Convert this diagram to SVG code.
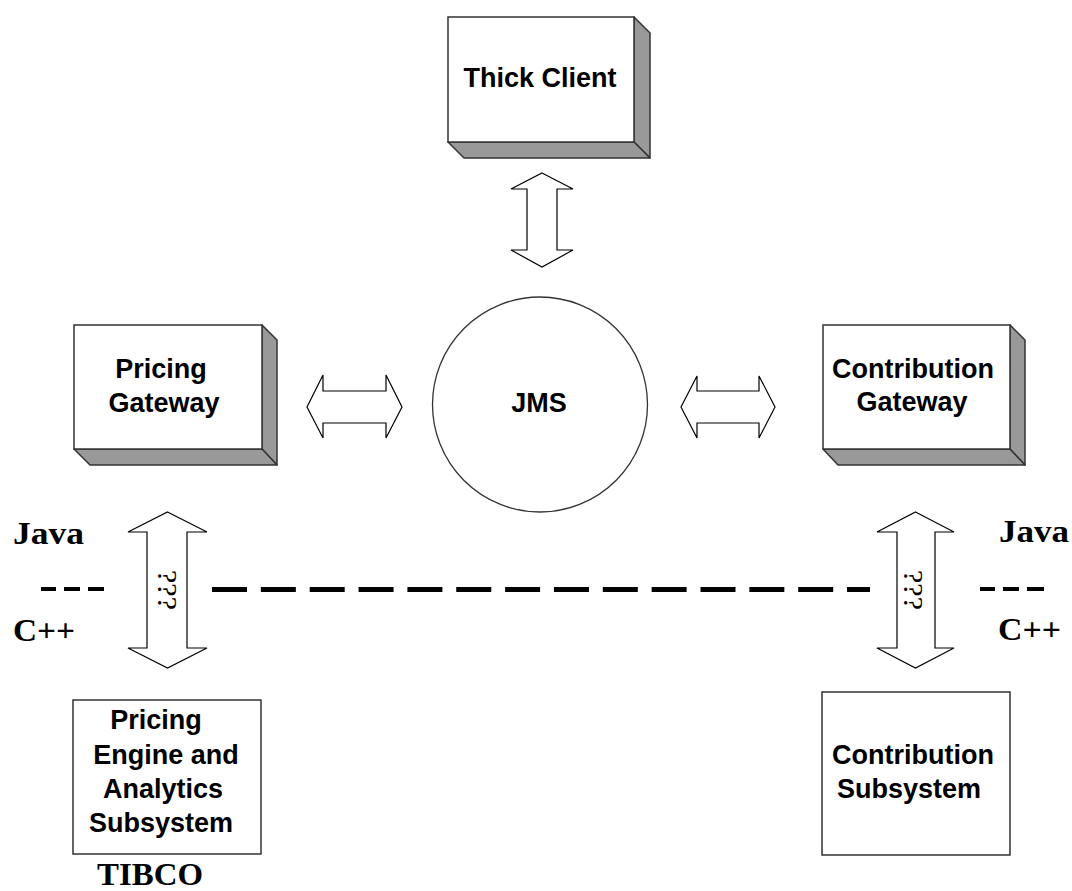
<svg xmlns="http://www.w3.org/2000/svg" width="1072" height="891" viewBox="0 0 1072 891">
<style>
.front{fill:#fff;stroke:#333;stroke-width:1.5}
.side{fill:#999;stroke:#333;stroke-width:1.5;stroke-linejoin:round}
.plain{fill:#fff;stroke:#333;stroke-width:1.5}
.lbl{font-family:"Liberation Sans",Arial,sans-serif;font-weight:bold;font-size:27px;fill:#000;text-anchor:middle}
.ser{font-family:"Liberation Serif","Times New Roman",serif;font-weight:bold;font-size:32px;fill:#000}
.arr{fill:#fff;stroke:#000;stroke-width:1.2;stroke-linejoin:miter}
.q{font-family:"Liberation Serif","Times New Roman",serif;font-size:28px;fill:#000;text-anchor:middle}
</style>
<rect width="1072" height="891" fill="#fff"/>

<g id="thick-client">
<polygon class="side" points="634,17 650,33 650,158 634,142"/>
<polygon class="side" points="448,142 634,142 650,158 464,158"/>
<rect class="front" x="448" y="17" width="186" height="125"/>
<text class="lbl" x="540" y="87">Thick Client</text>
</g>

<g id="pricing-gateway">
<polygon class="side" points="262,325 277,340 277,465 262,449"/>
<polygon class="side" points="74,449 262,449 277,465 90,465"/>
<rect class="front" x="74" y="325" width="188" height="124"/>
<text class="lbl" x="161" y="378">Pricing</text>
<text class="lbl" x="164" y="412">Gateway</text>
</g>

<g id="jms">
<circle cx="540" cy="404.5" r="107.5" fill="#fff" stroke="#333" stroke-width="1.3"/>
<text class="lbl" x="539" y="412">JMS</text>
</g>

<g id="contribution-gateway">
<polygon class="side" points="1010,325 1025,340 1025,465 1010,449"/>
<polygon class="side" points="823,449 1010,449 1025,465 838,465"/>
<rect class="front" x="823" y="325" width="187" height="124"/>
<text class="lbl" x="913" y="378">Contribution</text>
<text class="lbl" x="912" y="411">Gateway</text>
</g>

<g id="pricing-engine">
<rect class="plain" x="73" y="700" width="188" height="154"/>
<text class="lbl" x="156" y="729">Pricing</text>
<text class="lbl" x="166" y="763.5">Engine and</text>
<text class="lbl" x="163" y="798">Analytics</text>
<text class="lbl" x="161" y="832">Subsystem</text>
</g>

<g id="contribution-subsystem">
<rect class="plain" x="822" y="692" width="188" height="163"/>
<text class="lbl" x="913" y="764">Contribution</text>
<text class="lbl" x="909" y="798">Subsystem</text>
</g>

<g id="labels">
<text class="ser" x="13" y="544" textLength="71" lengthAdjust="spacingAndGlyphs">Java</text>
<text class="ser" x="999" y="542" textLength="70" lengthAdjust="spacingAndGlyphs">Java</text>
<text class="ser" x="13" y="641" textLength="62" lengthAdjust="spacingAndGlyphs">C++</text>
<text class="ser" x="998" y="640" textLength="63" lengthAdjust="spacingAndGlyphs">C++</text>
<text class="ser" x="97" y="885" textLength="106" lengthAdjust="spacingAndGlyphs">TIBCO</text>
</g>

<g id="boundary">
<g stroke="#000" stroke-width="4" fill="none">
<line x1="41" y1="589" x2="56" y2="589"/>
<line x1="64" y1="589" x2="80" y2="589"/>
<line x1="88" y1="589" x2="104" y2="589"/>
<line x1="980" y1="589" x2="995" y2="589"/>
<line x1="1003" y1="589" x2="1019" y2="589"/>
<line x1="1027" y1="589" x2="1044" y2="589"/>
</g>
<line x1="212" y1="589.5" x2="870" y2="589.5" stroke="#000" stroke-width="5" stroke-dasharray="35 13.85"/>
</g>

<g id="connectors">
<polygon class="arr" points="542,173 573,189 557,189 557,250 573,250 542,267 511,250 527,250 527,189 511,189"/>
<polygon class="arr" points="307,407 323,375 323,391 386,391 386,375 402,407 386,438 386,423 323,423 323,438"/>
<polygon class="arr" points="681,407 697,376 697,391 759,391 759,376 775,407 759,438 759,423 697,423 697,438"/>
<polygon class="arr" points="167.5,512 207,532 187,532 187,648 207,648 167.5,668 128,648 147,648 147,532 128,532"/>
<polygon class="arr" points="915.5,512 954,532 935,532 935,648 954,648 915.5,668 877,648 897,648 897,532 877,532"/>
<text class="q" transform="translate(158,590) rotate(90)" textLength="40" lengthAdjust="spacingAndGlyphs">???</text>
<text class="q" transform="translate(904,590) rotate(90)" textLength="40" lengthAdjust="spacingAndGlyphs">???</text>
</g>
</svg>
